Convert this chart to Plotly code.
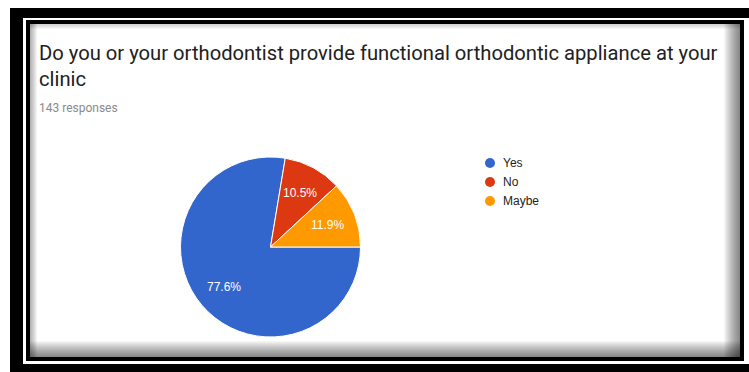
import math
import plotly.graph_objects as go

# Survey answers (143 responses)
labels = ["Yes", "No", "Maybe"]
counts = [111, 15, 17]
colors = ["#3366cc", "#dc3912", "#ff9900"]

title_lines = [
    "Do you or your orthodontist provide functional orthodontic appliance at your",
    "clinic",
]
subtitle = "143 responses"

W, H = 749, 372


def px(x):
    return x / W


def py(y):
    return 1 - y / H


# pie placement in pixels
PIE_L, PIE_R, PIE_T, PIE_B = 180, 361, 157, 337
CX, CY = (PIE_L + PIE_R) / 2, (PIE_T + PIE_B) / 2
RAD = min(PIE_R - PIE_L, PIE_B - PIE_T) / 2
START_DEG = 90  # first slice starts at 3 o'clock, running clockwise

fig = go.Figure()

fig.add_trace(go.Pie(
    labels=labels,
    values=counts,
    marker=dict(colors=colors, line=dict(color="white", width=1)),
    sort=False,
    direction="clockwise",
    rotation=START_DEG,
    textinfo="none",
    domain=dict(x=[px(PIE_L), px(PIE_R)], y=[py(PIE_B), py(PIE_T)]),
    showlegend=False,
    hoverinfo="label+percent",
))

annotations = []

# percentage labels placed along each slice's mid-angle
total = sum(counts)
acc = 0
for c in counts:
    frac = c / total
    mid = START_DEG + 360 * (acc + frac / 2)  # clockwise from 12 o'clock
    acc += frac
    a = math.radians(mid)
    lx = CX + 0.68 * RAD * math.sin(a)
    ly = CY - 0.68 * RAD * math.cos(a)
    annotations.append(dict(text=f"{frac * 100:.1f}%", x=px(lx), y=py(ly),
                            xref="paper", yref="paper", xanchor="center", yanchor="middle",
                            showarrow=False,
                            font=dict(family="Liberation Sans, Arial", size=12, color="white")))

shapes = []


def rect(x0, x1, y0, y1, color, opacity=1.0):
    shapes.append(dict(type="rect", layer="below", x0=px(x0), x1=px(x1), y0=py(y0), y1=py(y1),
                       fillcolor=color, opacity=opacity, line_width=0))


# outer black frame, thin white rule, inner black rule, card body
rect(10, 760, 8, 380, "black")
rect(23, 760, 18, 364, "white")
rect(26, 744, 20, 361, "black")
rect(30, 740, 24, 357, "white")

# inner shadow along the card edges
L, T, R, B = 30, 24, 740, 357
for i in range(16):
    op = 0.035
    if i < 7:
        rect(L, L + 7 - i, T, B, "black", op * 1.3)
    if i < 5:
        rect(L, R, T, T + 5 - i, "black", op)
    rect(R - 16 + i, R, T, B, "black", op)
    rect(L, R, B - 16 + i, B, "black", op)

# legend with round markers
leg_x, leg_y, leg_step = 490, 163, 19
for i, (lab, col) in enumerate(zip(labels, colors)):
    cy = leg_y + i * leg_step
    shapes.append(dict(type="circle", x0=px(leg_x - 5), x1=px(leg_x + 5),
                       y0=py(cy + 5), y1=py(cy - 5), fillcolor=col, line_width=0))
    annotations.append(dict(text=lab, x=px(leg_x + 11), y=py(cy), xref="paper", yref="paper",
                            xanchor="left", yanchor="middle", showarrow=False,
                            font=dict(family="Liberation Sans, Arial", size=12, color="#222222")))

annotations.append(dict(text="<br>".join(title_lines), x=px(37), y=py(39),
                        xref="paper", yref="paper", xanchor="left", yanchor="top",
                        align="left", showarrow=False,
                        font=dict(family="Roboto", size=20.2, color="#212121")))
annotations.append(dict(text=subtitle, x=px(37), y=py(99), xref="paper", yref="paper",
                        xanchor="left", yanchor="top", showarrow=False,
                        font=dict(family="Roboto", size=12, color="#8a8a8a")))

fig.update_layout(
    width=W, height=H,
    margin=dict(l=0, r=0, t=0, b=0),
    paper_bgcolor="white",
    plot_bgcolor="white",
    shapes=shapes,
    annotations=annotations,
)

fig.write_html("out.html", config={"displayModeBar": False})
